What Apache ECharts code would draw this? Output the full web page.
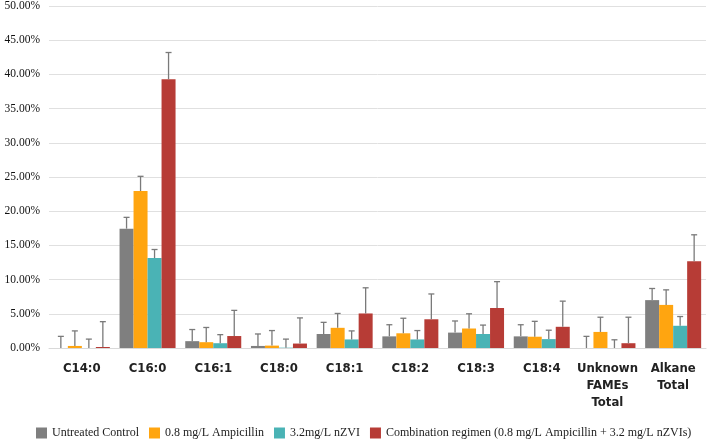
<!DOCTYPE html>
<html>
<head>
<meta charset="utf-8">
<script src="https://cdn.jsdelivr.net/npm/echarts@6/dist/echarts.min.js"></script>
<style>html,body{margin:0;padding:0;background:#fff;}#c{width:708px;height:440px;}</style>
</head>
<body>
<div id="c"></div>
<script>
var categories = ['C14:0','C16:0','C16:1','C18:0','C18:1','C18:2','C18:3','C18:4','Unknown\nFAMEs\nTotal','Alkane\nTotal'];
var seriesNames = ['Untreated Control','0.8 mg/L Ampicillin','3.2mg/L nZVI','Combination regimen (0.8 mg/L Ampicillin + 3.2 mg/L nZVIs)'];
var controlVals   = [0.0, 17.45, 1.0, 0.3, 2.05, 1.7, 2.25, 1.7, 0.0, 7.0];
var ampVals       = [0.3, 22.95, 0.85, 0.35, 2.95, 2.15, 2.85, 1.65, 2.35, 6.3];
var nzviVals      = [0.0, 13.15, 0.7, 0.05, 1.25, 1.25, 2.05, 1.3, 0.0, 3.25];
var comboVals     = [0.15, 39.3, 1.75, 0.65, 5.05, 4.2, 5.85, 3.1, 0.7, 12.7];
var controlErrTop = [1.7, 19.1, 2.7, 2.05, 3.75, 3.4, 3.95, 3.4, 1.7, 8.7];
var ampErrTop     = [2.5, 25.1, 3.0, 2.55, 5.05, 4.35, 5.0, 3.9, 4.5, 8.5];
var nzviErrTop    = [1.3, 14.4, 1.95, 1.3, 2.5, 2.55, 3.35, 2.6, 1.2, 4.6];
var comboErrTop   = [3.85, 43.2, 5.5, 4.4, 8.8, 7.9, 9.7, 6.85, 4.5, 16.55];
var yTicks = [0,5,10,15,20,25,30,35,40,45,50];

var colors = ['#7f7f7f','#ffa510','#4ab3b5','#b73c36'];
var vals = [controlVals, ampVals, nzviVals, comboVals];
var errs = [controlErrTop, ampErrTop, nzviErrTop, comboErrTop];
var BW = 14;

var series = [];
vals.forEach(function(v, i){
  series.push({
    name: seriesNames[i], type: 'bar', data: v, barWidth: BW, barGap: '0%',
    itemStyle: {color: colors[i]}, z: 2
  });
});
errs.forEach(function(e, i){
  series.push({
    type: 'custom', z: 3, silent: true,
    data: e.map(function(t, k){ return [k, vals[i][k], t]; }),
    renderItem: function(params, api){
      var c = api.value(0);
      var p0 = api.coord([c, api.value(1)]);
      var p1 = api.coord([c, api.value(2)]);
      var x = p0[0] + (i - 1.5) * BW;
      return {type: 'group', children: [
        {type: 'line', shape: {x1: x, y1: p0[1], x2: x, y2: p1[1]}, style: {stroke: '#7a7a7a', lineWidth: 1.3}},
        {type: 'line', shape: {x1: x - 3, y1: p1[1], x2: x + 3, y2: p1[1]}, style: {stroke: '#7a7a7a', lineWidth: 1.3}}
      ]};
    }
  });
});

var chart = echarts.init(document.getElementById('c'));
chart.setOption({
  animation: false,
  grid: {left: 49, right: 2, top: 6, bottom: 92, containLabel: false, outerBoundsMode: 'none'},
  legend: {
    data: seriesNames, left: 31, top: 422, width: 700, itemWidth: 11, itemHeight: 11, itemGap: 10,
    icon: 'rect',
    textStyle: {fontFamily: 'Liberation Serif', fontSize: 12, color: '#222'}
  },
  xAxis: {
    type: 'category', data: categories,
    axisLine: {lineStyle: {color: '#d9d9d9', width: 1}},
    axisTick: {show: false},
    axisLabel: {interval: 0, fontFamily: 'DejaVu Sans Condensed', fontWeight: 'bold', fontSize: 13, color: '#222', lineHeight: 17, margin: 12}
  },
  yAxis: {
    type: 'value', min: yTicks[0], max: yTicks[yTicks.length-1], interval: 5,
    axisLine: {show: false}, axisTick: {show: false},
    splitLine: {lineStyle: {color: '#e0e0e0', width: 1}},
    axisLabel: {formatter: function(v){ return v.toFixed(2) + '%'; }, fontFamily: 'Liberation Serif', fontSize: 11.5, color: '#111', margin: 9}
  },
  series: series
});
</script>
</body>
</html>
